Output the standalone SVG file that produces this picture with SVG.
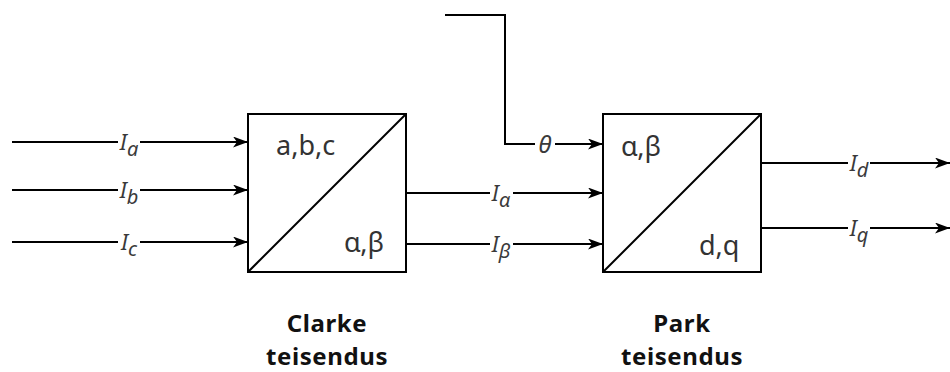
<svg xmlns="http://www.w3.org/2000/svg" width="950" height="372" viewBox="0 0 950 372">
  <defs>
    <marker id="arrow" viewBox="0 0 15 11" refX="15" refY="5.5" markerWidth="15" markerHeight="11" markerUnits="userSpaceOnUse" orient="auto">
      <path d="M0,0 L15,5.5 L0,11 L4,5.5 z" fill="#000"/>
    </marker>
  </defs>
  <style>
    .wire { fill: none; stroke: #000; stroke-width: 2; }
    .box { fill: #fff; stroke: #000; stroke-width: 2; }
    .diag { stroke: #000; stroke-width: 2; }
    .sig { font-family: "Noto Sans", "DejaVu Sans", sans-serif; font-style: italic; font-size: 22px; fill: #3a3a3a; }
    .sub { font-size: 20px; }
    .theta { font-size: 24px; }
    .bg { fill: #fff; }
    .port { font-family: "Noto Sans", "DejaVu Sans", sans-serif; font-size: 27px; fill: #333; }
    .cap { font-family: "Noto Sans", "DejaVu Sans", sans-serif; font-size: 24px; font-weight: bold; letter-spacing: 0.6px; fill: #111; text-anchor: middle; }
  </style>

  <!-- connectors -->
  <g id="connectors">
    <path class="wire" d="M12,142 H248" marker-end="url(#arrow)"/>
    <path class="wire" d="M12,190 H248" marker-end="url(#arrow)"/>
    <path class="wire" d="M12,242 H248" marker-end="url(#arrow)"/>
    <path class="wire" d="M406,193 H603" marker-end="url(#arrow)"/>
    <path class="wire" d="M406,244 H603" marker-end="url(#arrow)"/>
    <path class="wire" d="M445,15 H505 V144 H603" marker-end="url(#arrow)"/>
    <path class="wire" d="M761,163 H950" marker-end="url(#arrow)"/>
    <path class="wire" d="M761,228 H950" marker-end="url(#arrow)"/>

    <!-- signal labels -->
    <rect class="bg" x="118" y="130" width="22" height="32"/>
    <text class="sig" x="129" y="150" text-anchor="middle">I<tspan class="sub" dy="6">a</tspan></text>
    <rect class="bg" x="118" y="178" width="22" height="32"/>
    <text class="sig" x="129" y="198" text-anchor="middle">I<tspan class="sub" dy="6">b</tspan></text>
    <rect class="bg" x="118" y="230" width="22" height="32"/>
    <text class="sig" x="129" y="250" text-anchor="middle">I<tspan class="sub" dy="6">c</tspan></text>

    <rect class="bg" x="490" y="181" width="23" height="32"/>
    <text class="sig" x="501" y="201" text-anchor="middle">I<tspan class="sub" dy="6">α</tspan></text>
    <rect class="bg" x="490" y="232" width="23" height="32"/>
    <text class="sig" x="501" y="252" text-anchor="middle">I<tspan class="sub" dy="6">β</tspan></text>

    <rect class="bg" x="535" y="132" width="20" height="26"/>
    <text class="sig theta" x="545" y="153" text-anchor="middle">θ</text>

    <rect class="bg" x="848" y="151" width="22" height="32"/>
    <text class="sig" x="859" y="171" text-anchor="middle">I<tspan class="sub" dy="6">d</tspan></text>
    <rect class="bg" x="848" y="216" width="22" height="32"/>
    <text class="sig" x="859" y="236" text-anchor="middle">I<tspan class="sub" dy="6">q</tspan></text>
  </g>

  <!-- Clarke transform block -->
  <g id="clarke">
    <rect class="box" x="248" y="114" width="158" height="158"/>
    <line class="diag" x1="248" y1="272" x2="406" y2="114"/>
    <text class="port" x="276" y="155">a,b,c</text>
    <text class="port" x="344" y="252">α,β</text>
    <text class="cap" x="327" y="332">Clarke</text>
    <text class="cap" x="327" y="365">teisendus</text>
  </g>

  <!-- Park transform block -->
  <g id="park">
    <rect class="box" x="603" y="114" width="158" height="158"/>
    <line class="diag" x1="603" y1="272" x2="761" y2="114"/>
    <text class="port" x="621" y="156">α,β</text>
    <text class="port" x="699" y="255">d,q</text>
    <text class="cap" x="682" y="332">Park</text>
    <text class="cap" x="682" y="365">teisendus</text>
  </g>
</svg>
